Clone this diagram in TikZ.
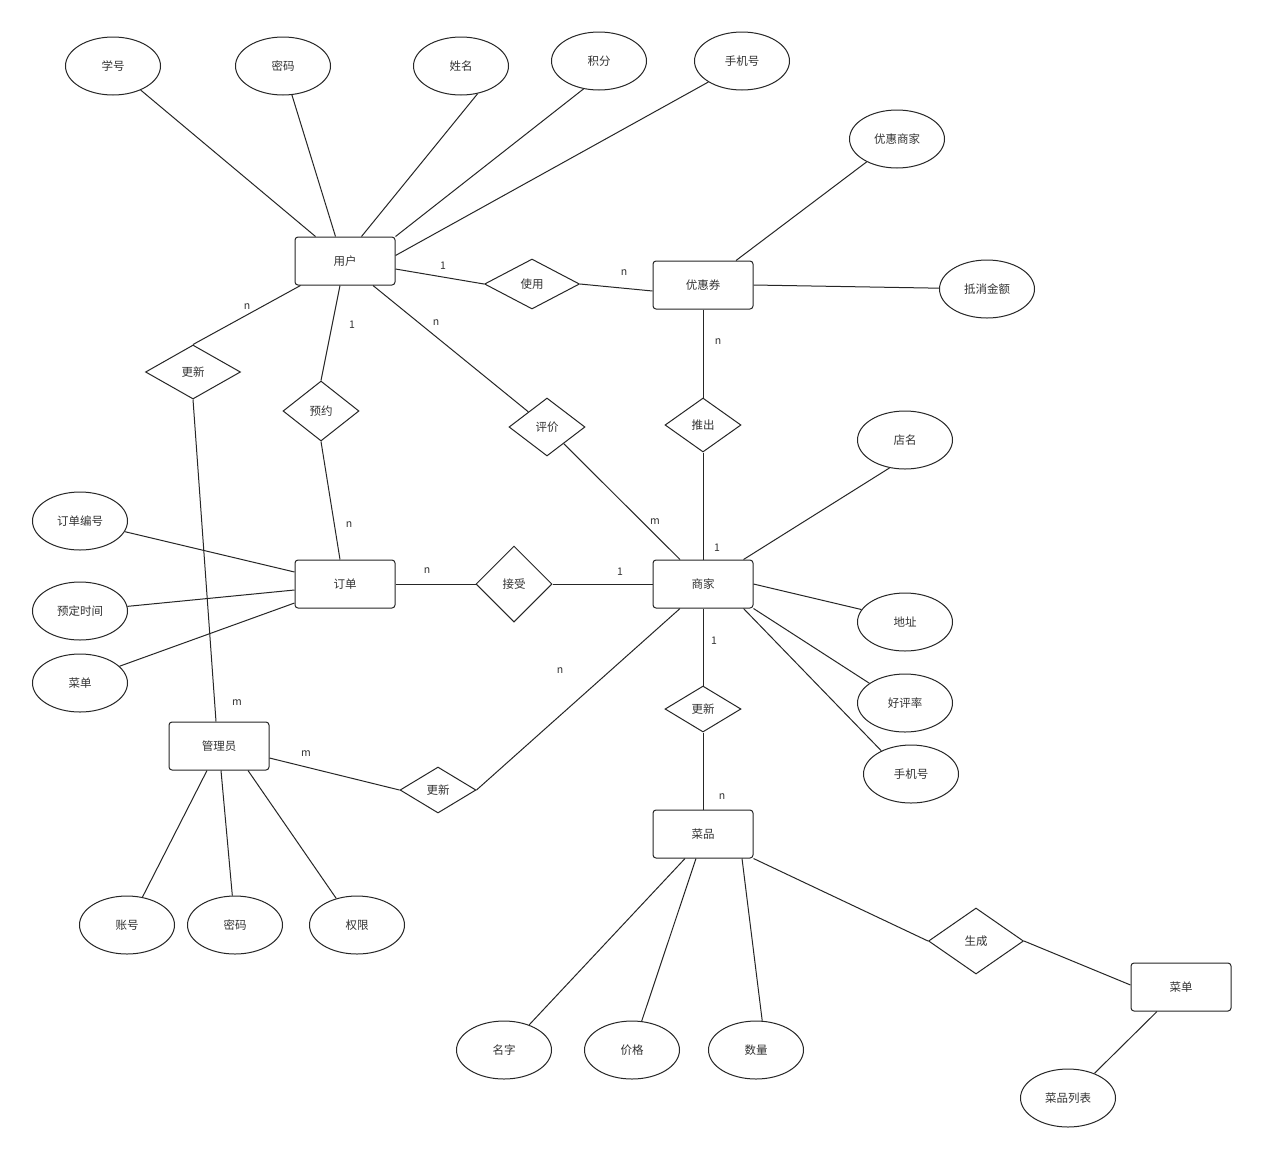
\documentclass[tikz,border=0pt]{standalone}
\usepackage{fontspec}
\setmainfont{Noto Sans CJK SC}
\usetikzlibrary{shapes.geometric}
\begin{document}
\begin{tikzpicture}[x=1pt,y=-1pt,
  every node/.style={text=black!80, font=\fontsize{11.5}{13}\selectfont},
  ent/.style={draw, rounded corners=3pt, minimum width=100pt, minimum height=48pt, inner sep=0pt},
  attr/.style={draw, ellipse, minimum width=95pt, minimum height=58pt, inner sep=0pt},
  rel/.style={draw, diamond, inner sep=0pt},
  lbl/.style={inner sep=0pt, font=\fontsize{10.5}{12}\selectfont}]
\fill[white] (0,0) rectangle (1265,1160);
\useasboundingbox (0,0) rectangle (1265,1160);
\tikzset{every path/.style={line width=1pt, draw=black!85}}
% entities
\node[ent] (u) at (345,261) {用户};
\node[ent] (q) at (703,285) {优惠券};
\node[ent] (o) at (345,584) {订单};
\node[ent] (s) at (703,584) {商家};
\node[ent] (a) at (219,746) {管理员};
\node[ent] (d) at (703,834) {菜品};
\node[ent] (m) at (1181,987) {菜单};
% attributes
\node[attr] (xh) at (113,66) {学号};
\node[attr] (mm) at (283,66) {密码};
\node[attr] (xm) at (461,66) {姓名};
\node[attr] (jf) at (599,61) {积分};
\node[attr] (sj) at (742,61) {手机号};
\node[attr] (yhsj) at (897,139) {优惠商家};
\node[attr] (dxje) at (987,289) {抵消金额};
\node[attr] (dm) at (905,440) {店名};
\node[attr] (dz) at (905,622) {地址};
\node[attr] (hpl) at (905,703) {好评率};
\node[attr] (sj2) at (911,774) {手机号};
\node[attr] (ddbh) at (80,521) {订单编号};
\node[attr] (ydsj) at (80,611) {预定时间};
\node[attr] (cd) at (80,683) {菜单};
\node[attr] (zh) at (127,925) {账号};
\node[attr] (mm2) at (235,925) {密码};
\node[attr] (qx) at (357,925) {权限};
\node[attr] (mz) at (504,1050) {名字};
\node[attr] (jg) at (632,1050) {价格};
\node[attr] (sl) at (756,1050) {数量};
\node[attr] (cplb) at (1068,1098) {菜品列表};
% relationships
\node[rel, minimum width=95pt, minimum height=50pt] (r1) at (532,284) {使用};
\node[rel, minimum width=95pt, minimum height=54pt] (r2) at (193,372) {更新};
\node[rel, minimum width=76pt, minimum height=60pt] (r3) at (321,411) {预约};
\node[rel, minimum width=76pt, minimum height=58pt] (r4) at (547,427) {评价};
\node[rel, minimum width=76pt, minimum height=54pt] (r5) at (703,425) {推出};
\node[rel, minimum width=76pt, minimum height=76pt] (r6) at (514,584) {接受};
\node[rel, minimum width=76pt, minimum height=46pt] (r7) at (703,709) {更新};
\node[rel, minimum width=76pt, minimum height=46pt] (r8) at (438,790) {更新};
\node[rel, minimum width=95pt, minimum height=66pt] (r9) at (976,941) {生成};
% connectors
\draw (xh.-41) -- ([xshift=21pt]u.north west);
\draw (mm) -- ([xshift=41pt]u.north west);
\draw (xm.-59) -- ([xshift=67pt]u.north west);
\draw (jf.-119) -- (u.north east);
\draw (sj.-148) -- ([yshift=-19pt]u.north east);
\draw ([yshift=-8pt]u.east) -- (r1.west);
\draw (r1.east) -- ([yshift=-6pt]q.west);
\draw ([xshift=33pt]q.north) -- (yhsj.-143);
\draw (q.east) -- (dxje);
\draw (q.south) -- (r5.north);
\draw (r5.south) -- (s.north);
\draw ([xshift=6pt]u.south west) -- (r2.north);
\draw (r2.south) -- ([xshift=-3pt]a.north);
\draw ([xshift=-5pt]u.south) -- (r3.north);
\draw (r3.south) -- ([xshift=-5pt]o.north);
\draw ([xshift=28pt]u.south) -- (r4);
\draw (r4) -- ([xshift=-23pt]s.north);
\draw (o.east) -- (r6.west);
\draw (r6.east) -- (s.west);
\draw (ddbh) -- ([yshift=12pt]o.west);
\draw (ydsj) -- ([yshift=-6pt]o.west);
\draw (cd.23) -- ([yshift=-19pt]o.west);
\draw ([xshift=-10pt]s.north east) -- (dm.-119);
\draw (s.east) -- (dz.164);
\draw (s.south east) -- (hpl.151);
\draw ([xshift=-10pt]s.south east) -- (sj2.142);
\draw (s.south) -- (r7.north);
\draw (r7.south) -- (d.north);
\draw ([xshift=-23pt]s.south) -- (r8.east);
\draw ([yshift=-12pt]a.east) -- (r8.west);
\draw ([xshift=-12pt]a.south) -- (zh.61);
\draw ([xshift=2pt]a.south) -- (mm2);
\draw ([xshift=29pt]a.south) -- (qx.128);
\draw ([xshift=-18pt]d.south) -- (mz.45);
\draw ([xshift=-7pt]d.south) -- (jg);
\draw ([xshift=39pt]d.south) -- (sl.78);
\draw (d.south east) -- (r9.west);
\draw (r9.east) -- ([yshift=2pt]m.west);
\draw ([xshift=-24pt]m.south) -- (cplb.43);
% cardinality labels
\node[lbl] (l1) at (443,266) {1};
\node[lbl] (l2) at (624,273) {n};
\node[lbl] (l3) at (718,342) {n};
\node[lbl] (l4) at (717,548) {1};
\node[lbl] (l5) at (247,307) {n};
\node[lbl] (l6) at (237,703) {m};
\node[lbl] (l7) at (352,325) {1};
\node[lbl] (l8) at (349,525) {n};
\node[lbl] (l9) at (436,323) {n};
\node[lbl] (l10) at (655,522) {m};
\node[lbl] (l11) at (427,571) {n};
\node[lbl] (l12) at (620,572) {1};
\node[lbl] (l13) at (714,641) {1};
\node[lbl] (l14) at (722,797) {n};
\node[lbl] (l15) at (560,671) {n};
\node[lbl] (l16) at (306,754) {m};
\end{tikzpicture}
\end{document}
